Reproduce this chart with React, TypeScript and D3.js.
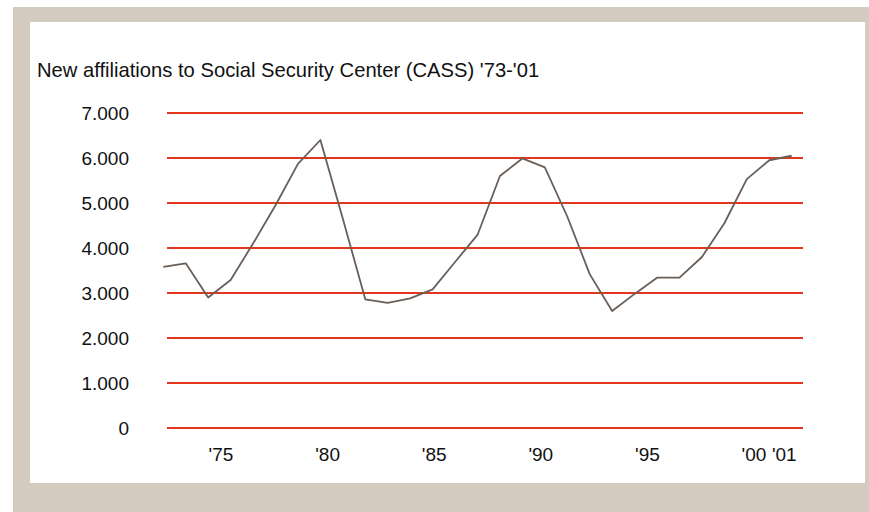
import React from "react";
import * as d3 from "d3";

// New affiliations to CASS, yearly, 1973–2001
const years: number[] = [
  1973, 1974, 1975, 1976, 1977, 1978, 1979, 1980, 1981, 1982,
  1983, 1984, 1985, 1986, 1987, 1988, 1989, 1990, 1991, 1992,
  1993, 1994, 1995, 1996, 1997, 1998, 1999, 2000, 2001,
];
const affiliations: number[] = [
  3580, 3660, 2900, 3290, 4100, 4950, 5870, 6400, 4650, 2860,
  2780, 2880, 3080, 3690, 4290, 5600, 5990, 5790, 4700, 3420,
  2600, 2980, 3340, 3340, 3800, 4550, 5530, 5950, 6050,
];
const yTicks: number[] = [0, 1000, 2000, 3000, 4000, 5000, 6000, 7000];
const xTickYears: number[] = [1975, 1980, 1985, 1990, 1995, 2000, 2001];
const xTickLabels: string[] = ["'75", "'80", "'85", "'90", "'95", "'00", "'01"];
const title = "New affiliations to Social Security Center (CASS) '73-'01";

const W = 869;
const H = 512;
const FONT = "'Liberation Sans', Arial, Helvetica, sans-serif";

const fmt = (v: number) => (v === 0 ? "0" : d3.format(",")(v).replace(/,/g, "."));

export default function App() {
  const x = d3.scaleLinear().domain([1973, 2001]).range([163.3, 791.7]);
  const y = d3.scaleLinear().domain([0, 7000]).range([428, 113]);
  // category labels sit on their own evenly spaced slots
  const xLabel = d3.scaleLinear().domain([1975, 2000]).range([221, 754]);

  const line = d3
    .line<number>()
    .x((_, i) => x(years[i]))
    .y((d) => y(d));

  return (
    <svg
      width={W}
      height={H}
      style={{ position: "absolute", left: 0, top: 0, display: "block" }}
      fontFamily={FONT}
    >
      <rect x={0} y={0} width={W} height={H} fill="#ffffff" />
      <rect x={13} y={7} width={W - 13} height={H - 7} fill="#d3cbbf" />
      <rect x={30} y={22} width={835} height={461} fill="#ffffff" />

      <text x={37} y={77} fontSize={20.2} fill="#111">
        {title}
      </text>

      {yTicks.map((t) => (
        <g key={t}>
          <line
            x1={167}
            x2={803}
            y1={y(t)}
            y2={y(t)}
            stroke="#e2361d"
            strokeWidth={2}
          />
          <text
            x={129}
            y={y(t) + 2}
            textAnchor="end"
            dominantBaseline="middle"
            fontSize={19}
            fill="#111"
          >
            {fmt(t)}
          </text>
        </g>
      ))}

      <path
        d={line(affiliations) ?? ""}
        fill="none"
        stroke="#6a5f58"
        strokeWidth={1.8}
        strokeLinejoin="round"
      />

      {xTickYears.map((yr, i) => (
        <text
          key={yr}
          x={xLabel(yr) + (yr === 2001 ? 9 : 0)}
          y={456}
          textAnchor="middle"
          dominantBaseline="middle"
          fontSize={19}
          fill="#111"
        >
          {xTickLabels[i]}
        </text>
      ))}
    </svg>
  );
}
